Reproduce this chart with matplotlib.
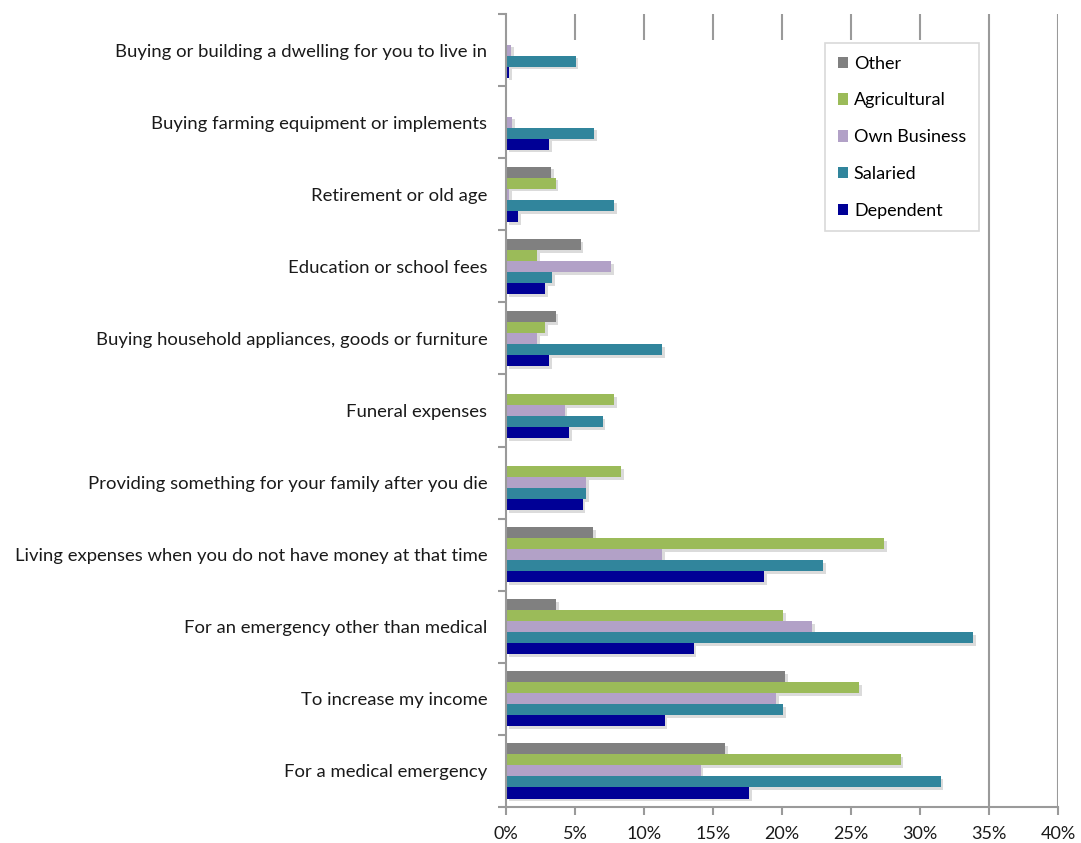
import matplotlib
matplotlib.use("Agg")
import matplotlib.pyplot as plt
import matplotlib.patheffects as pe
from matplotlib.patches import Rectangle
import numpy as np

plt.rcParams['font.family'] = ['Lato', 'DejaVu Sans']

# Purposes listed bottom-to-top
purposes = [
    "For a medical emergency",
    "To increase my income",
    "For an emergency other than medical",
    "Living expenses when you do not have money at that time",
    "Providing something for your family after you die",
    "Funeral expenses",
    "Buying household appliances, goods or furniture",
    "Education or school fees",
    "Retirement or old age",
    "Buying farming equipment or implements",
    "Buying or building a dwelling for you to live in",
]

other        = [15.9, 20.25, 3.65, 6.3, 0.0, 0.0, 3.6, 5.4, 3.25, 0.0, 0.0]
agricultural = [28.6, 25.6, 20.1, 27.4, 8.35, 7.85, 2.85, 2.25, 3.6, 0.0, 0.0]
own_business = [14.1, 19.6, 22.2, 11.3, 5.8, 4.25, 2.25, 7.6, 0.2, 0.45, 0.35]
salaried     = [31.5, 20.1, 33.85, 23.0, 5.8, 7.0, 11.3, 3.35, 7.85, 6.4, 5.05]
dependent    = [17.6, 11.5, 13.6, 18.7, 5.55, 4.6, 3.15, 2.85, 0.9, 3.1, 0.2]

series_names = ["Other", "Agricultural", "Own Business", "Salaried", "Dependent"]
series_vals = [other, agricultural, own_business, salaried, dependent]
colors = ["#808080", "#9BBB59", "#B2A1C7", "#31859C", "#000096"]

x_ticks = [0, 5, 10, 15, 20, 25, 30, 35, 40]
x_tick_labels = [f"{v}%" for v in x_ticks]

fig = plt.figure(figsize=(10.81, 8.43), dpi=100)
ax = fig.add_axes([506 / 1081, 1 - 807 / 843, (1058 - 506) / 1081, (807 - 14) / 843])

n = len(purposes)
y = np.arange(n)
bar_h = 0.153
offsets = [2, 1, 0, -1, -2]

shadow = [pe.SimplePatchShadow(offset=(2, -2), shadow_rgbFace="#000000", alpha=0.14), pe.Normal()]

for name, vals, col, off in zip(series_names, series_vals, colors, offsets):
    ax.barh(y + off * bar_h, vals, height=bar_h, color=col, label=name,
            edgecolor="none", zorder=3, path_effects=shadow)

ax.set_xlim(0, 40)
ax.set_ylim(-0.5, n - 0.5)

# vertical gridlines
for xv in x_ticks[1:]:
    ax.axvline(xv, color="#9a9a9a", lw=1.5, zorder=0)

# white panel behind the bars covering the inner gridlines
ax.add_patch(Rectangle((0, 0), 34.3, 0.967, transform=ax.get_xaxis_transform(),
                       facecolor="white", edgecolor="none", zorder=1))

for s in ["top", "right"]:
    ax.spines[s].set_visible(False)
for s in ["left", "bottom"]:
    ax.spines[s].set_color("#9a9a9a")
    ax.spines[s].set_linewidth(1.5)
    ax.spines[s].set_zorder(4)

ax.set_xticks(x_ticks)
ax.set_xticklabels(x_tick_labels, fontsize=13, color="#1a1a1a")
ax.tick_params(axis="x", direction="out", length=6, width=1.5, color="#9a9a9a", pad=8)

ax.set_yticks(np.arange(-0.5, n, 1.0))
ax.set_yticklabels([])
ax.tick_params(axis="y", which="major", direction="out", length=6, width=1.5, color="#9a9a9a")
ax.set_yticks(y, minor=True)
ax.set_yticklabels(purposes, minor=True, fontsize=13.3, color="#1a1a1a")
ax.tick_params(axis="y", which="minor", length=0, pad=13.5)

leg = ax.legend(loc="upper left", bbox_to_anchor=((825 - 506) / 552, (807 - 43) / 793),
                borderaxespad=0, frameon=True, fontsize=13, handlelength=0.6, handleheight=0.6,
                handletextpad=0.3, labelspacing=1.15, borderpad=0.7, fancybox=False)
leg.get_frame().set_edgecolor("#d0d0d0")
leg.get_frame().set_linewidth(1.2)
leg.set_zorder(5)
for h in leg.legend_handles:
    h.set_path_effects([])

fig.savefig("out.png", dpi=100, facecolor="white")
